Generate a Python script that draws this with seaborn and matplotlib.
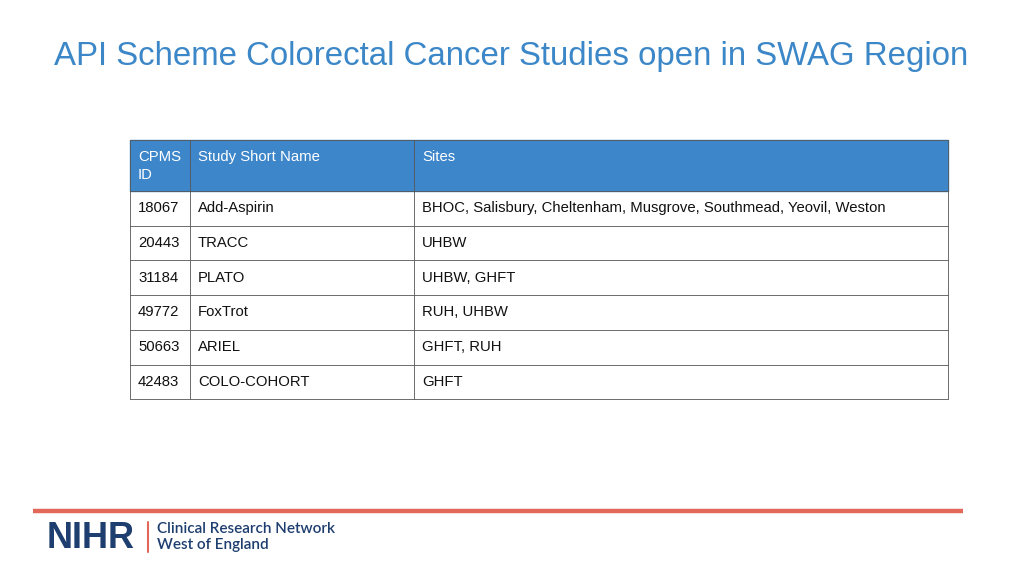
import matplotlib
matplotlib.use("Agg")
import matplotlib.pyplot as plt
import seaborn as sns
from matplotlib.patches import Rectangle

sns.set_theme(style="white")
plt.rcParams["font.family"] = "Liberation Sans"

title = "API Scheme Colorectal Cancer Studies open in SWAG Region"
headers = ["CPMS\nID", "Study Short Name", "Sites"]
cpms_ids = ["18067", "20443", "31184", "49772", "50663", "42483"]
study_names = ["Add-Aspirin", "TRACC", "PLATO", "FoxTrot", "ARIEL", "COLO-COHORT"]
sites = ["BHOC, Salisbury, Cheltenham, Musgrove, Southmead, Yeovil, Weston",
         "UHBW", "UHBW, GHFT", "RUH, UHBW", "GHFT, RUH", "GHFT"]

fig = plt.figure(figsize=(10.24, 5.76), dpi=100)
ax = fig.add_axes([0, 0, 1, 1])
ax.set_xlim(0, 1024); ax.set_ylim(576, 0); ax.axis("off")

ax.text(54, 57, title, fontsize=23.8, color="#3C87C7", va="center", ha="left")

cols = [130, 190, 414, 948]
ytop, hh, rh = 140, 51, 34.7
blue = "#3D86CA"
ax.add_patch(Rectangle((cols[0], ytop), cols[-1]-cols[0], hh, color=blue, zorder=1))
for i, h in enumerate(headers):
    ax.text(cols[i]+8, ytop+10, h, fontsize=10.7, color="white", va="top", ha="left", linespacing=1.35)
rows = list(zip(cpms_ids, study_names, sites))
for r, row in enumerate(rows):
    y0 = ytop + hh + r*rh
    for i, v in enumerate(row):
        ax.text(cols[i]+8, y0+rh/2, v, fontsize=10.7, color="#111111", va="center", ha="left")
ybot = ytop + hh + len(rows)*rh
lc = "#555555"
for r in range(len(rows)+1):
    y = ytop + hh + r*rh
    ax.plot([cols[0], cols[-1]], [y, y], color=lc, lw=0.6)
ax.plot([cols[0], cols[-1]], [ytop, ytop], color=lc, lw=0.6)
for x in cols:
    ax.plot([x, x], [ytop, ybot], color=lc, lw=0.6)

ax.plot([33, 963], [511, 511], color="#E2685A", lw=3.2, solid_capstyle="butt")
ax.text(47, 538, "NIHR", fontsize=26, fontweight="heavy", color="#1E3E6F", va="center", ha="left")
ax.plot([148, 148], [522, 552], color="#E2685A", lw=1.5)
ax.text(157, 529, "Clinical Research Network", fontsize=11, fontfamily="Lato", fontweight="semibold", color="#1E3E6F", va="center", ha="left")
ax.text(157, 545, "West of England", fontsize=11, fontfamily="Lato", fontweight="semibold", color="#1E3E6F", va="center", ha="left")

fig.savefig("out.png", dpi=100)
